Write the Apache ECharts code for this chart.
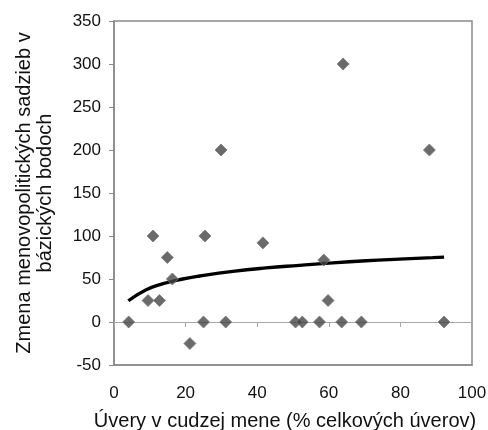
<!DOCTYPE html>
<html>
<head>
<meta charset="utf-8">
<script src="https://cdn.jsdelivr.net/npm/echarts@6/dist/echarts.min.js"></script>
<style>
  html, body { margin: 0; padding: 0; background: #fff; }
  #chart { width: 488px; height: 430px; }
</style>
</head>
<body>
<div id="chart"></div>
<script>
// Foreign-currency loans (% of total loans) vs. change in policy rates (basis points)
const loansShare = [4.1, 9.5, 10.9, 12.7, 14.9, 16.3, 21.2, 25.0, 25.4, 29.9, 31.2, 41.6,
                    50.7, 52.6, 57.4, 58.6, 59.8, 63.6, 64.0, 69.1, 88.1, 92.2];
const rateChange = [0, 25, 100, 25, 75, 50, -25, 0, 100, 200, 0, 92,
                    0, 0, 0, 72, 25, 0, 300, 0, 200, 0];

// Logarithmic trend line, sampled along x
const trendX = [4.0, 9.0, 13.7, 19.2, 23.9, 33.2, 42.5, 51.8, 61.1, 70.4, 79.7, 89.0, 92.2];
const trendY = [24.7, 37.6, 44.5, 50.0, 53.5, 58.9, 62.9, 65.9, 68.8, 71.2, 73.1, 74.8, 75.4];

const xTicks = { min: 0, max: 100, interval: 20 };
const yTicks = { min: -50, max: 350, interval: 50 };

const xTitle = 'Úvery v cudzej mene (% celkových úverov)';
const yTitle = 'Zmena menovopolitických sadzieb v\nbázických bodoch';

const points = loansShare.map((x, i) => [x, rateChange[i]]);
const trend = trendX.map((x, i) => [x, trendY[i]]);

const font = 'Liberation Sans, Arial, sans-serif';
const axisGrey = '#8a8a8a';

const chart = echarts.init(document.getElementById('chart'), null, { renderer: 'canvas' });
chart.setOption({
  animation: false,
  backgroundColor: '#fff',
  textStyle: { fontFamily: font, color: '#111' },
  grid: {
    left: 114, right: 16, top: 21, bottom: 65,
    outerBoundsMode: 'none', containLabel: false,
    show: true, borderColor: axisGrey, borderWidth: 1.5
  },
  xAxis: [
    {
      type: 'value', min: xTicks.min, max: xTicks.max, interval: xTicks.interval,
      position: 'bottom',
      axisLine: { show: true, onZero: false, lineStyle: { color: axisGrey, width: 1.5 } },
      axisTick: { show: false },
      splitLine: { show: false },
      axisLabel: { fontSize: 17, color: '#111', margin: 20, fontFamily: font },
      name: xTitle, nameLocation: 'middle', nameGap: 46,
      nameTextStyle: { fontSize: 20, color: '#111', fontFamily: font, padding: [0, 16, 0, 0] }
    },
    {
      // zero line with its tick marks
      type: 'value', min: xTicks.min, max: xTicks.max, interval: xTicks.interval,
      position: 'bottom', offset: -43,
      axisLine: { show: true, onZero: false, lineStyle: { color: '#a8a8a8', width: 1 } },
      axisTick: { show: true, length: 5, lineStyle: { color: '#a8a8a8', width: 1 } },
      splitLine: { show: false },
      axisLabel: { show: false }
    }
  ],
  yAxis: {
    type: 'value', min: yTicks.min, max: yTicks.max, interval: yTicks.interval,
    axisLine: { show: true, onZero: false, lineStyle: { color: axisGrey, width: 1.5 } },
    axisTick: { show: true, length: 5, lineStyle: { color: axisGrey, width: 1 } },
    splitLine: { show: false },
    axisLabel: { fontSize: 17, color: '#111', margin: 13, fontFamily: font },
    name: yTitle, nameLocation: 'middle', nameGap: 58, nameRotate: 90,
    nameTextStyle: { fontSize: 20, color: '#111', lineHeight: 21, fontFamily: font, align: 'center' }
  },
  series: [
    {
      type: 'line', data: trend, smooth: true, symbol: 'none',
      lineStyle: { color: '#000', width: 3.4 }, z: 2
    },
    {
      type: 'scatter', data: points, symbol: 'diamond', symbolSize: 12,
      itemStyle: { color: '#454545', borderColor: '#7a7a7a', borderWidth: 1 }, z: 3
    }
  ]
});
</script>
</body>
</html>
